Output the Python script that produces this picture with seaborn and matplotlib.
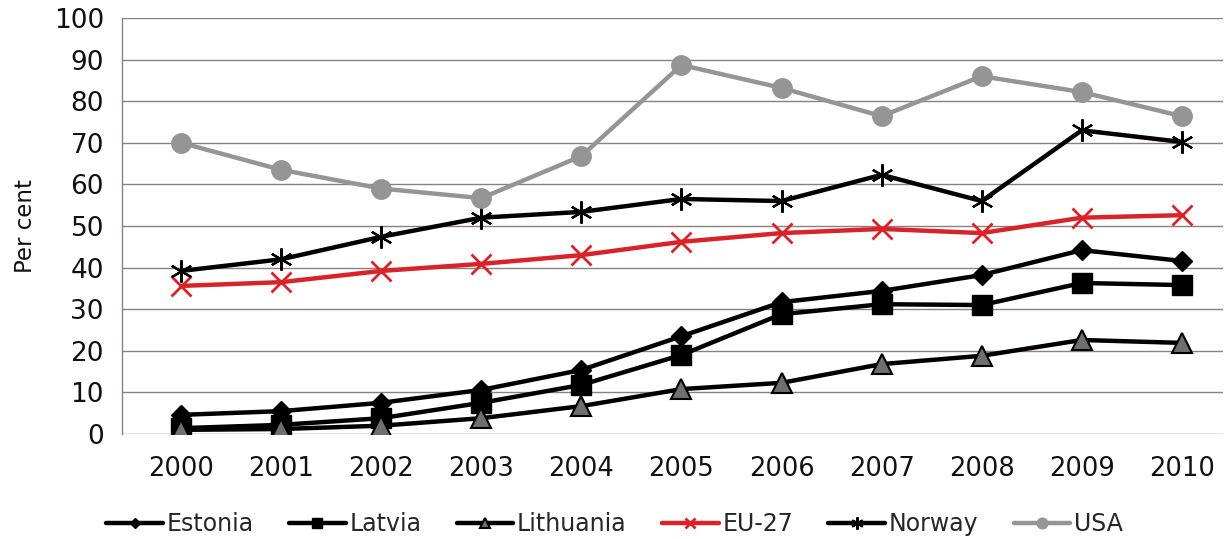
import numpy as np
import pandas as pd
import matplotlib
matplotlib.use("Agg")
import matplotlib.pyplot as plt
import seaborn as sns

years = [2000, 2001, 2002, 2003, 2004, 2005, 2006, 2007, 2008, 2009, 2010]
estonia = [4.6, 5.5, 7.5, 10.6, 15.4, 23.5, 31.7, 34.4, 38.2, 44.2, 41.6]
latvia = [1.4, 2.2, 3.8, 7.5, 11.8, 19.0, 28.8, 31.2, 31.0, 36.3, 35.8]
lithuania = [1.0, 1.2, 2.0, 3.8, 6.7, 10.8, 12.3, 16.8, 18.8, 22.6, 21.9]
eu27 = [35.6, 36.5, 39.2, 40.9, 43.0, 46.2, 48.3, 49.3, 48.3, 52.0, 52.6]
norway = [39.2, 42.0, 47.4, 52.0, 53.4, 56.5, 56.0, 62.3, 56.0, 73.0, 70.2]
usa = [70.0, 63.5, 59.0, 56.7, 66.8, 88.7, 83.2, 76.4, 86.0, 82.2, 76.4]

series = [
    ("Estonia", estonia, dict(color="black", marker="D", ms=10, mfc="black", mec="black")),
    ("Latvia", latvia, dict(color="black", marker="s", ms=14, mfc="black", mec="black")),
    ("Lithuania", lithuania, dict(color="black", marker="^", ms=14, mfc="#6f6f6f", mec="black", mew=1.5)),
    ("EU-27", eu27, dict(color="#d9232a", marker="x", ms=14, mfc="#d9232a", mec="#d9232a", mew=2)),
    ("Norway", norway, dict(color="black", marker=(6, 2, 0), ms=16, mfc="black", mec="black", mew=1.6)),
    ("USA", usa, dict(color="#959595", marker="o", ms=14, mfc="#959595", mec="#959595")),
]

sns.set_theme(style="white")
plt.rcParams["font.family"] = ["DejaVu Sans"]

fig = plt.figure(figsize=(12.29, 5.39), dpi=100)
ax = fig.add_axes([0.0993, 0.1948, 0.8957, 0.7718])

pos = np.arange(len(years))
for name, vals, st in series:
    sns.lineplot(x=pos, y=vals, ax=ax, label=name, linewidth=3.2,
                 markeredgewidth=st.pop("mew", 1), **st)

ax.set_xlim(-0.59, 10.41)
ax.set_ylim(0, 100)
ax.set_yticks(range(0, 101, 10))
ax.set_xticks(pos)
ax.set_xticklabels([str(y) for y in years])
ax.set_xticks(np.arange(-0.59, 10.5, 1.0)[:12], minor=True)
ax.tick_params(axis="x", which="major", length=0, pad=16, labelsize=18.5, colors="#111111")
ax.tick_params(axis="x", which="minor", length=8, width=1, color="#8a8080", direction="out")
ax.tick_params(axis="y", which="major", length=6, width=1, color="#8a8080", direction="out",
               pad=7, labelsize=19)
ax.tick_params(axis="y", colors="#8a8080", labelcolor="#111111")
ax.grid(axis="y", color="#8c7f7f", linewidth=1)
ax.set_axisbelow(True)
for side in ["top", "right", "bottom"]:
    ax.spines[side].set_visible(False)
ax.spines["left"].set_color("#8a8080")
ax.spines["left"].set_linewidth(1)
ax.set_ylabel("Per cent", fontsize=16.5, color="#111111", labelpad=12)
ax.set_xlabel("")

handles, labels = ax.get_legend_handles_labels()
ax.get_legend().remove()
fig.legend(handles, labels, loc="center", bbox_to_anchor=(0.5, 0.027), ncol=6, frameon=False,
           fontsize=17, handlelength=2.4, handletextpad=0.15, columnspacing=1.5,
           markerscale=0.55)

fig.savefig("out.png", dpi=100, facecolor="white")
